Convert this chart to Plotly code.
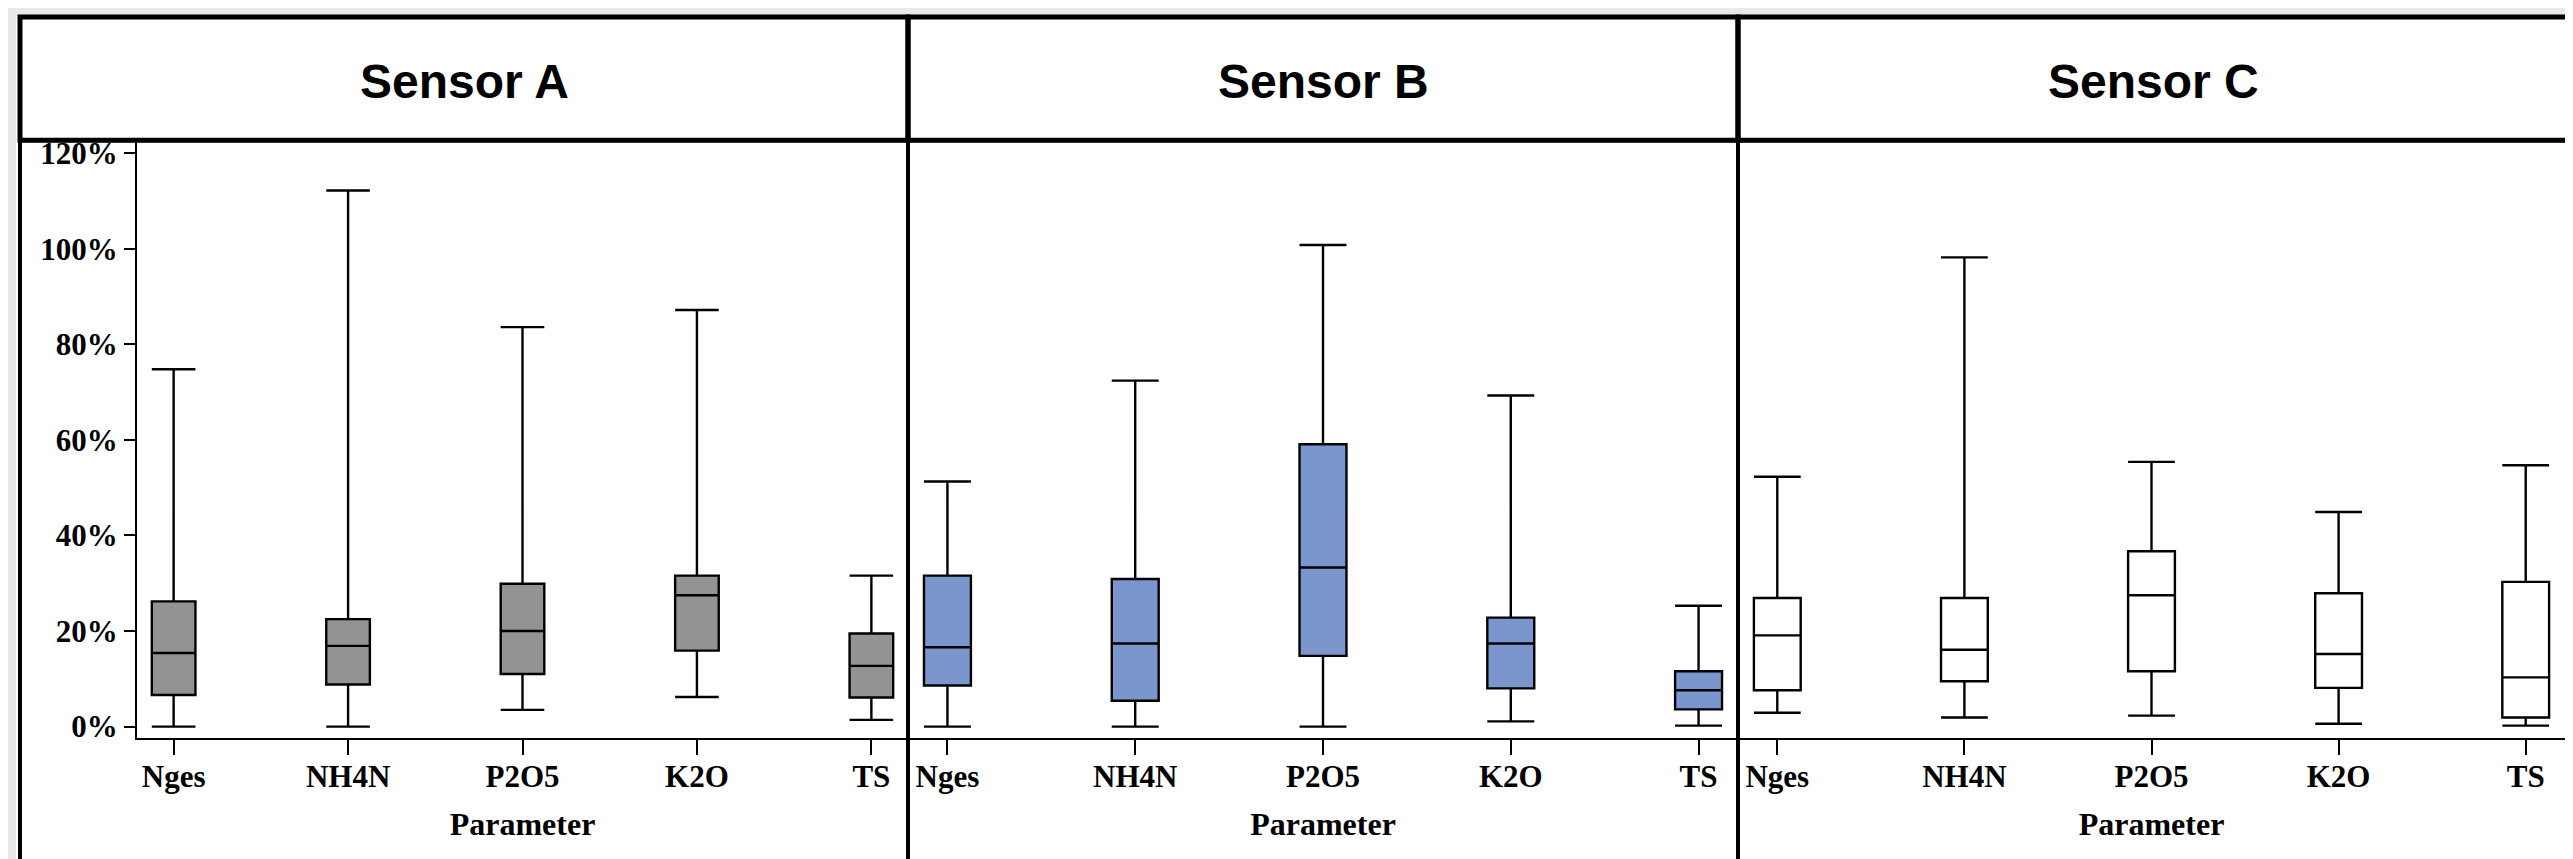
import plotly.graph_objects as go

W, H = 2573, 859

params = ["Nges", "NH4N", "P2O5", "K2O", "TS"]
sensors = ["Sensor A", "Sensor B", "Sensor C"]

A_low = [0.0, 0.0, 3.5, 6.2, 1.4]
A_q1 = [6.6, 8.8, 11.0, 15.9, 6.1]
A_med = [15.4, 16.9, 20.0, 27.5, 12.7]
A_q3 = [26.2, 22.5, 29.9, 31.6, 19.5]
A_high = [74.8, 112.2, 83.6, 87.2, 31.6]

B_low = [0.0, 0.0, 0.0, 1.1, 0.2]
B_q1 = [8.6, 5.4, 14.8, 8.0, 3.6]
B_med = [16.6, 17.4, 33.3, 17.4, 7.6]
B_q3 = [31.6, 30.9, 59.1, 22.8, 11.6]
B_high = [51.3, 72.4, 100.8, 69.3, 25.3]

C_low = [2.9, 1.9, 2.3, 0.6, 0.2]
C_q1 = [7.6, 9.5, 11.6, 8.1, 1.9]
C_med = [19.1, 16.1, 27.5, 15.2, 10.3]
C_q3 = [26.9, 26.9, 36.7, 27.9, 30.3]
C_high = [52.3, 98.2, 55.4, 44.9, 54.7]

y_ticks = [0, 20, 40, 60, 80, 100, 120]
y_tick_labels = ["0%", "20%", "40%", "60%", "80%", "100%", "120%"]

fills = ["#939393", "#7b96cc", "#ffffff"]
stats = [
    (A_low, A_q1, A_med, A_q3, A_high),
    (B_low, B_q1, B_med, B_q3, B_high),
    (C_low, C_q1, C_med, C_q3, C_high),
]

# pixel geometry -> paper fractions
def px(x):
    return x / W

def py(y):
    return (H - y) / H

x_doms = [(129, 900), (900, 1730), (1730, 2557)]
strip_x = [(12, 900), (900, 1730), (1730, 2560)]
strip_top, strip_bot = 5, 130
plot_bot = 735

fig = go.Figure()
axis_names = ["", "2", "3"]
for i, (low, q1, med, q3, high) in enumerate(stats):
    fig.add_trace(go.Box(
        x=params, lowerfence=low, q1=q1, median=med, q3=q3, upperfence=high,
        xaxis="x" + axis_names[i], yaxis="y" + axis_names[i],
        fillcolor=fills[i], line=dict(color="black", width=2.4),
        width=0.25, whiskerwidth=1, boxpoints=False, showlegend=False,
        hoverinfo="skip",
    ))

tickfont = dict(family="Liberation Serif", size=31, color="black", weight="bold")
layout = dict(
    width=W, height=H, margin=dict(l=0, r=0, t=0, b=0),
    paper_bgcolor="#e9e9e9", plot_bgcolor="rgba(0,0,0,0)",
    showlegend=False,
)
for i in range(3):
    xa = dict(
        domain=[px(x_doms[i][0]), px(x_doms[i][1])],
        type="category", range=[-0.21, 4.21],
        showline=True, linecolor="black", linewidth=2,
        ticks="outside", ticklen=15, tickwidth=2, tickcolor="black",
        tickfont=tickfont, showgrid=False, zeroline=False,
        ticklabelstandoff=-5,
        anchor="y" + axis_names[i],
        title=dict(text="Parameter", font=dict(family="Liberation Serif", size=32,
                                               color="black", weight="bold"), standoff=20),
    )
    ya = dict(
        domain=[py(plot_bot), py(strip_bot)],
        range=[-2.3, 122.7], showgrid=False, zeroline=False,
        anchor="x" + axis_names[i],
    )
    if i == 0:
        ya.update(tickvals=y_ticks, ticktext=y_tick_labels, ticks="outside",
                  ticklen=11, tickwidth=2, tickcolor="black", showline=True,
                  linecolor="black", linewidth=2, tickfont=tickfont)
    else:
        ya.update(showticklabels=False, ticks="", showline=False, matches="y")
    layout["xaxis" + axis_names[i]] = xa
    layout["yaxis" + axis_names[i]] = ya
fig.update_layout(**layout)

shapes = [dict(type="rect", xref="paper", yref="paper", layer="below",
               x0=px(8), x1=px(2564), y0=py(4), y1=-0.05,
               fillcolor="white", line=dict(width=0))]
annotations = []
for i, (x0, x1) in enumerate(strip_x):
    shapes.append(dict(type="rect", xref="paper", yref="paper", layer="above",
                       x0=px(x0), x1=px(x1), y0=py(strip_bot), y1=py(strip_top),
                       line=dict(color="black", width=5)))
    shapes.append(dict(type="rect", xref="paper", yref="paper", layer="above",
                       x0=px(x0), x1=px(x1), y0=-0.05, y1=py(strip_bot),
                       line=dict(color="black", width=4)))
    annotations.append(dict(xref="paper", yref="paper", x=(px(x0) + px(x1)) / 2,
                            y=py(70), text=sensors[i], showarrow=False,
                            xanchor="center", yanchor="middle",
                            font=dict(family="Liberation Sans", size=48,
                                      color="black", weight="bold")))
fig.update_layout(shapes=shapes, annotations=annotations)

fig.write_html("out.html")
